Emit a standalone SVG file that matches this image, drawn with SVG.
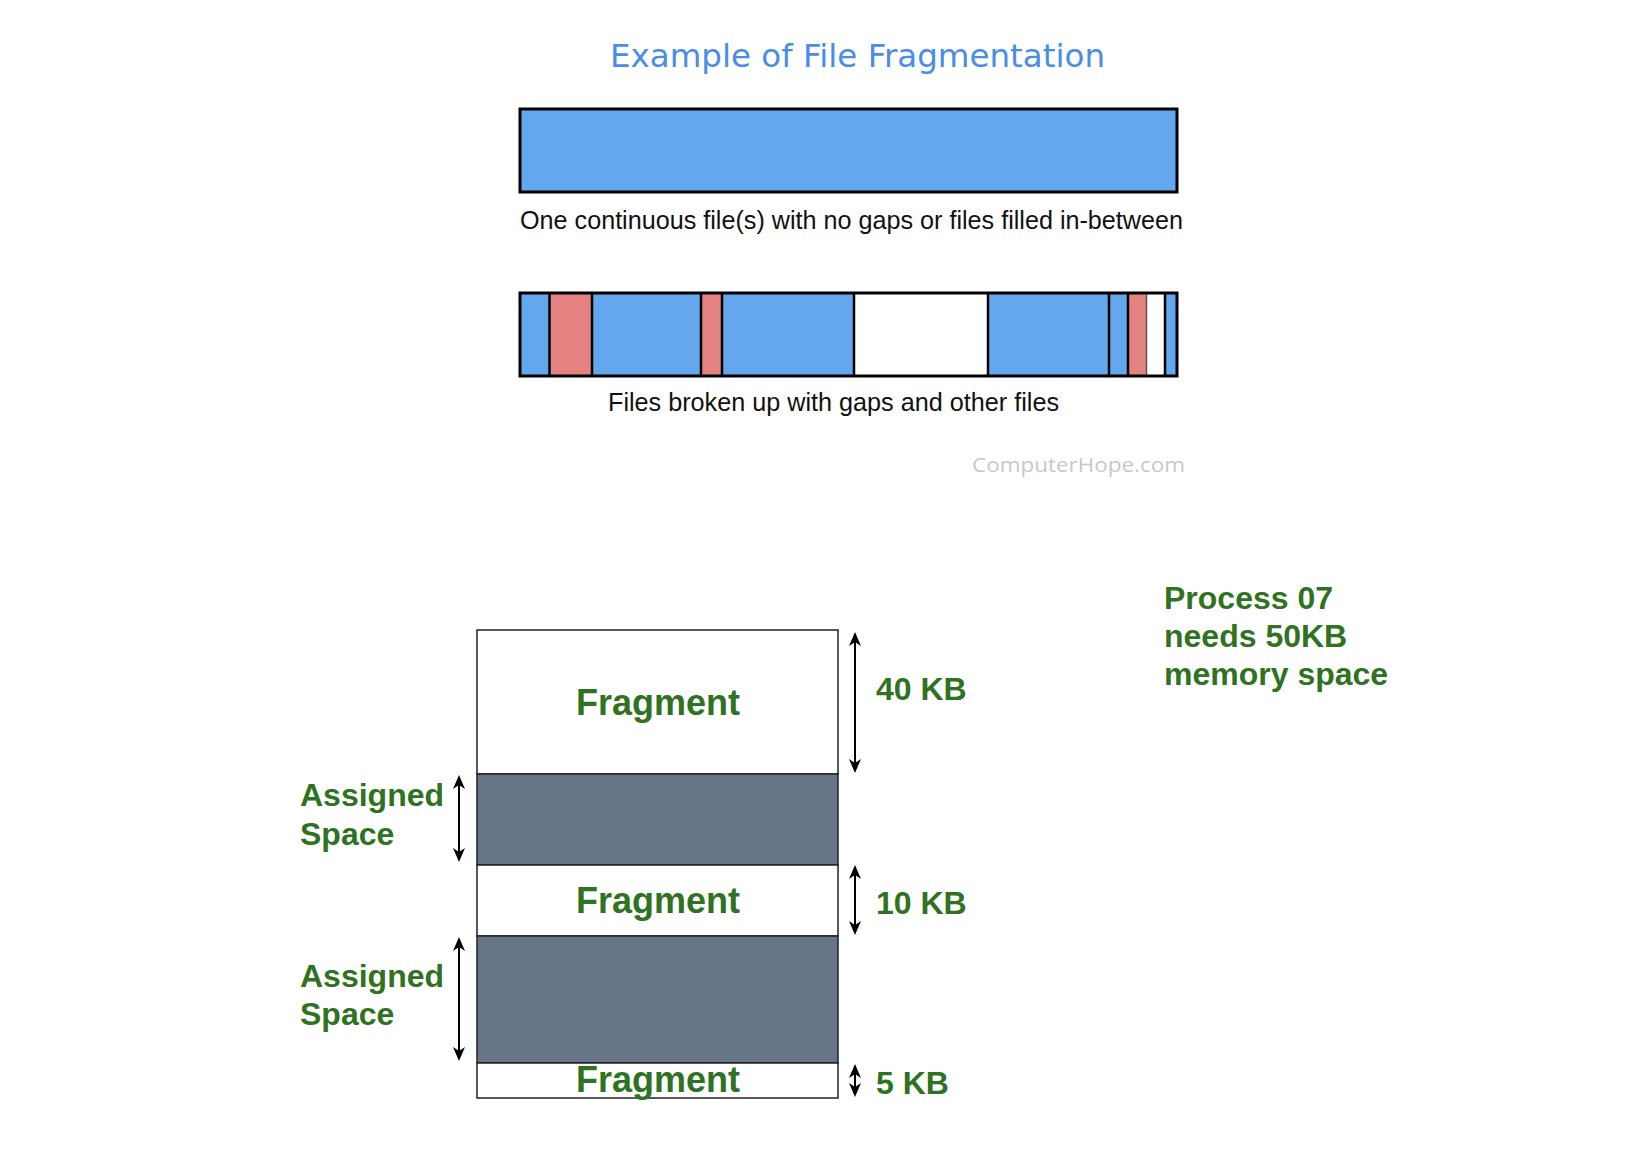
<svg xmlns="http://www.w3.org/2000/svg" width="1652" height="1150" viewBox="0 0 1652 1150">
  <style>
    .title { font-family: "DejaVu Sans", Verdana, sans-serif; font-size: 32px; fill: #4a8de6; }
    .cap { font-family: "Liberation Sans", Arial, sans-serif; font-size: 25px; fill: #111; }
    .wm { font-family: "Open Sans", "DejaVu Sans", sans-serif; font-size: 20px; fill: #c8c8c8; }
    .g { font-family: "Liberation Sans", Arial, sans-serif; font-weight: bold; fill: #2f7322; }
    .frag { font-size: 36px; text-anchor: middle; }
    .lbl { font-size: 32px; }
    .blue { fill: #63a8ee; }
    .red { fill: #e58282; }
    .white { fill: #ffffff; }
    .div { stroke: #000; stroke-width: 2.5; }
    .free { fill: #ffffff; stroke: #222; stroke-width: 1.5; }
    .used { fill: #687487; stroke: #222; stroke-width: 1.5; }
    .arr { stroke: #000; stroke-width: 2; fill: none; marker-start: url(#ah); marker-end: url(#ah); }
  </style>
  <defs>
    <marker id="ah" viewBox="0 0 14 12" refX="8" refY="6" markerWidth="14" markerHeight="12" markerUnits="userSpaceOnUse" orient="auto-start-reverse">
      <path d="M0,0 L14,6 L0,12 L4,6 Z" fill="#000"/>
    </marker>
  </defs>
  <rect width="1652" height="1150" fill="#ffffff"/>

  <g id="title">
    <text class="title" x="610" y="67" textLength="495" lengthAdjust="spacingAndGlyphs">Example of File Fragmentation</text>
  </g>

  <g id="continuous-bar">
    <rect x="520" y="109" width="657" height="83" class="blue" stroke="#000" stroke-width="3"/>
    <text class="cap" x="520" y="229" textLength="663" lengthAdjust="spacingAndGlyphs">One continuous file(s) with no gaps or files filled in-between</text>
  </g>

  <g id="fragmented-bar">
    <rect x="520" y="293" width="657" height="83" class="blue"/>
    <rect x="549.5" y="293" width="42.5" height="83" class="red"/>
    <rect x="701" y="293" width="21" height="83" class="red"/>
    <rect x="854" y="293" width="134" height="83" class="white"/>
    <rect x="1128" y="293" width="18.5" height="83" class="red"/>
    <rect x="1146.5" y="293" width="18.5" height="83" class="white"/>
    <line x1="549.5" y1="293" x2="549.5" y2="376" class="div"/>
    <line x1="592" y1="293" x2="592" y2="376" class="div"/>
    <line x1="701" y1="293" x2="701" y2="376" class="div"/>
    <line x1="722" y1="293" x2="722" y2="376" class="div"/>
    <line x1="854" y1="293" x2="854" y2="376" class="div"/>
    <line x1="988" y1="293" x2="988" y2="376" class="div"/>
    <line x1="1109" y1="293" x2="1109" y2="376" class="div"/>
    <line x1="1128" y1="293" x2="1128" y2="376" class="div"/>
    <line x1="1146.5" y1="293" x2="1146.5" y2="376" stroke="#555" stroke-width="1.5"/>
    <line x1="1165" y1="293" x2="1165" y2="376" class="div"/>
    <rect x="520" y="293" width="657" height="83" fill="none" stroke="#000" stroke-width="3"/>
    <text class="cap" x="608" y="411" textLength="451" lengthAdjust="spacingAndGlyphs">Files broken up with gaps and other files</text>
  </g>

  <g id="watermark">
    <text class="wm" x="972" y="472" textLength="213" lengthAdjust="spacingAndGlyphs">ComputerHope.com</text>
  </g>

  <g id="frag-40">
    <rect x="477" y="630" width="361" height="144" class="free"/>
    <text class="g frag" x="658" y="715">Fragment</text>
  </g>
  <g id="assigned-1">
    <rect x="477" y="774" width="361" height="91" class="used"/>
  </g>
  <g id="frag-10">
    <rect x="477" y="865" width="361" height="71" class="free"/>
    <text class="g frag" x="658" y="913">Fragment</text>
  </g>
  <g id="assigned-2">
    <rect x="477" y="936" width="361" height="127" class="used"/>
  </g>
  <g id="frag-5">
    <rect x="477" y="1063" width="361" height="35" class="free"/>
    <text class="g frag" x="658" y="1092">Fragment</text>
  </g>

  <g id="labels">
    <text class="g lbl" x="876" y="700">40 KB</text>
    <text class="g lbl" x="876" y="914">10 KB</text>
    <text class="g lbl" x="876" y="1094">5 KB</text>
    <text class="g lbl" x="300" y="806">Assigned</text>
    <text class="g lbl" x="300" y="845">Space</text>
    <text class="g lbl" x="300" y="987">Assigned</text>
    <text class="g lbl" x="300" y="1025">Space</text>
  </g>

  <g id="process-note">
    <text class="g lbl" x="1164" y="609">Process 07</text>
    <text class="g lbl" x="1164" y="647">needs 50KB</text>
    <text class="g lbl" x="1164" y="685">memory space</text>
  </g>

  <g id="connectors">
    <line class="arr" x1="855" y1="638" x2="855" y2="767"/>
    <line class="arr" x1="855" y1="871" x2="855" y2="929"/>
    <line class="arr" x1="855" y1="1070" x2="855" y2="1091"/>
    <line class="arr" x1="459" y1="781" x2="459" y2="856"/>
    <line class="arr" x1="459" y1="943" x2="459" y2="1055"/>
  </g>
</svg>
